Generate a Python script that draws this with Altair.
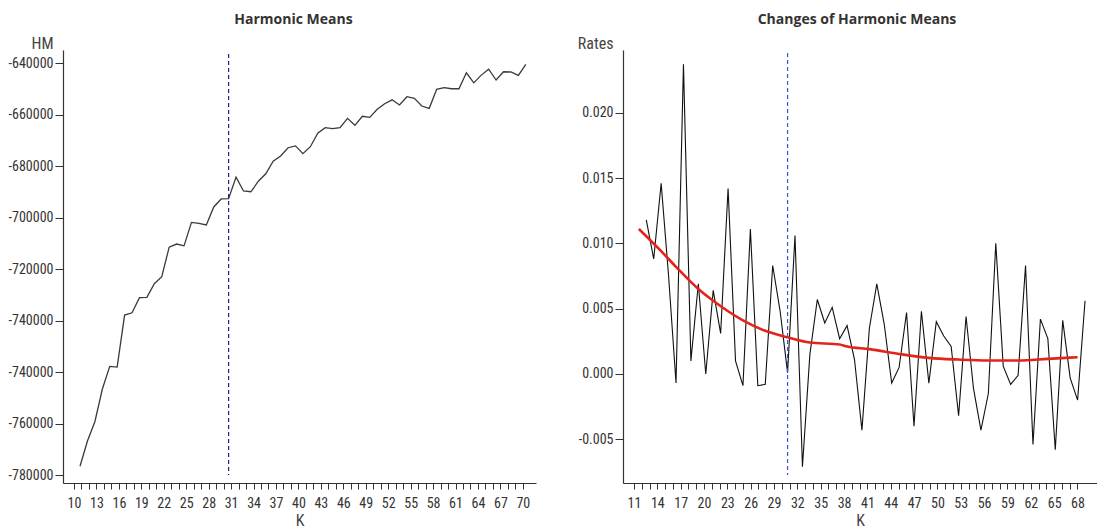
import json
import altair as alt
import pandas as pd

# ---- data -----------------------------------------------------------------
K_HM = list(range(10, 71))
HM = [-796600, -786800, -779300, -766700, -757800, -758100, -737900, -737000, -731100, -731000,
      -725700, -723000, -711500, -710300, -711000, -701900, -702300, -702900, -695900, -692800,
      -692700, -684300, -689700, -690000, -685900, -683000, -678100, -676100, -672900, -672200,
      -675200, -672500, -667300, -665100, -665500, -665100, -661500, -664200, -660700, -661100,
      -658000, -655800, -654300, -656300, -653100, -653700, -656700, -657600, -650200, -649600,
      -650000, -650000, -643800, -647700, -644700, -642400, -646600, -643400, -643500, -644800,
      -640500]

K_RATE = list(range(11, 71))
RATE = [0.0118, 0.0088, 0.0146, 0.0075, -0.0007, 0.0237, 0.0010, 0.0069, 0.0000, 0.0064,
        0.0031, 0.0142, 0.0010, -0.0009, 0.0111, -0.0009, -0.0008, 0.0083, 0.0048, 0.0001,
        0.0106, -0.0071, 0.0015, 0.0057, 0.0039, 0.0051, 0.0027, 0.0037, 0.0011, -0.0043,
        0.0035, 0.0069, 0.0038, -0.0007, 0.0005, 0.0047, -0.0040, 0.0048, -0.0007, 0.0040,
        0.0029, 0.0021, -0.0032, 0.0044, -0.0011, -0.0043, -0.0015, 0.0100, 0.0006, -0.0008,
        -0.0001, 0.0083, -0.0054, 0.0042, 0.0027, -0.0058, 0.0041, -0.0003, -0.0020, 0.0056]

# smoothed trend of the rates
K_SMOOTH = [10, 13, 15, 18, 20, 22, 24, 27, 30, 33, 37, 38, 41, 45, 49, 53, 57, 61, 65, 69]
SMOOTH = [0.0111, 0.0094, 0.0082, 0.0065, 0.0056, 0.0048, 0.0041, 0.0033, 0.0028, 0.0024,
          0.00225, 0.0021, 0.0019, 0.00153, 0.00123, 0.0011, 0.00103, 0.00103, 0.00115, 0.00128]

SELECTED_K = 30

HM_TICKS = [-640000, -660000, -680000, -700000, -720000, -740000, -760000, -780000, -800000]
HM_TICK_LABELS = ["-640000", "-660000", "-680000", "-700000", "-720000",
                  "-740000", "-740000", "-760000", "-780000"]
RATE_TICKS = [-0.005, 0.0, 0.005, 0.010, 0.015, 0.020]
RATE_TICK_LABELS = ["-0.005", "0.000", "0.005", "0.010", "0.015", "0.020"]

K_TICKS_LEFT = list(range(10, 71))
K_TICKS_RIGHT = list(range(11, 69))

# ---- style ----------------------------------------------------------------
FONT = "Liberation Sans Narrow, Roboto Condensed, Roboto, sans-serif"
TITLE_FONT = "Open Sans"
INK = "#333333"
W_L, W_R, H = 473, 474, 433

hm_df = pd.DataFrame({"K": K_HM, "HM": HM})
rate_df = pd.DataFrame({"K": K_RATE, "Rate": RATE})
smooth_df = pd.DataFrame({"K": K_SMOOTH, "Rate": SMOOTH})
sel_df = pd.DataFrame({"K": [SELECTED_K]})


def k_axis_layer(ticks, first, domain):
    """Invisible layer that carries the K axis with a tick at every integer."""
    df = pd.DataFrame({"k": ticks})
    return alt.Chart(df).mark_point(opacity=0).encode(
        x=alt.X("k:Q", title="K",
                scale=alt.Scale(domain=domain, nice=False, zero=False),
                axis=alt.Axis(values=ticks,
                              labelExpr=f"(datum.value - {first}) % 3 == 0 ? datum.label : ''",
                              labelOverlap=False, labelFlush=False,
                              tickSize=6, labelPadding=7, titlePadding=2))
    )


def y_axis(title, ticks, labels, step, top):
    expr = f"{json.dumps(labels)}[round(abs(datum.value - ({top})) / {step})]"
    return alt.Axis(values=ticks, labelExpr=expr, title=title, titleAngle=0,
                    titleAlign="right", titleBaseline="alphabetic",
                    titleX=-10, titleY=-2, tickSize=8, labelPadding=2,
                    labelOverlap=False, labelFlush=False)


# ---- left: harmonic means --------------------------------------------------
xs_left = alt.Scale(domain=[7.71, 71.37], nice=False, zero=False)
ys_left = alt.Scale(domain=[-803100, -634950], nice=False, zero=False)

hm_line = alt.Chart(hm_df).mark_line(color="#3a3a3a", strokeWidth=1.3).encode(
    x=alt.X("K:Q", scale=xs_left, axis=None),
    y=alt.Y("HM:Q", scale=ys_left,
            axis=y_axis("HM", HM_TICKS, HM_TICK_LABELS, 20000, -640000)),
)
hm_rule = alt.Chart(sel_df).mark_rule(color="#1c2680", strokeWidth=1.2,
                                      strokeDash=[4, 3]).encode(
    x=alt.X("K:Q", scale=xs_left, axis=None),
    y=alt.value(4), y2=alt.value(H - 8),
)
left = alt.layer(
    k_axis_layer(K_TICKS_LEFT, 10, [8.53, 71.76]), hm_line, hm_rule
).resolve_scale(x="independent").properties(
    width=W_L, height=H,
    title=alt.TitleParams("Harmonic Means", anchor="middle", frame="group",
                          font=TITLE_FONT, fontSize=14, fontWeight="bold",
                          color=INK, offset=8, dx=-6),
)

# ---- right: changes of harmonic means --------------------------------------
xs_right = alt.Scale(domain=[7.87, 71.61], nice=False, zero=False)
ys_right = alt.Scale(domain=[-0.00835, 0.0248], nice=False, zero=False)

rate_line = alt.Chart(rate_df).mark_line(color="#111111", strokeWidth=1.1).encode(
    x=alt.X("K:Q", scale=xs_right, axis=None),
    y=alt.Y("Rate:Q", scale=ys_right,
            axis=y_axis("Rates", RATE_TICKS, RATE_TICK_LABELS, 0.005, -0.005)),
)
smooth_line = alt.Chart(smooth_df).mark_line(color="#e3241b", strokeWidth=2.6,
                                             interpolate="monotone").encode(
    x=alt.X("K:Q", scale=xs_right, axis=None),
    y=alt.Y("Rate:Q", scale=ys_right),
)
rate_rule = alt.Chart(sel_df).mark_rule(color="#3d4ee0", strokeWidth=1.2,
                                        strokeDash=[4, 3]).encode(
    x=alt.X("K:Q", scale=xs_right, axis=None),
    y=alt.value(3), y2=alt.value(H - 8),
)
right = alt.layer(
    k_axis_layer(K_TICKS_RIGHT, 11, [9.59, 70.51]), rate_line, smooth_line, rate_rule
).resolve_scale(x="independent").properties(
    width=W_R, height=H,
    title=alt.TitleParams("Changes of Harmonic Means", anchor="middle", frame="group",
                          font=TITLE_FONT, fontSize=14, fontWeight="bold",
                          color=INK, offset=8, dx=-3),
)

chart = alt.hconcat(left, right, spacing=41).properties(
    padding={"left": 8, "top": 13, "right": 0, "bottom": 0},
).configure_view(stroke=None).configure_axis(
    grid=False,
    domainColor=INK, domainWidth=1.2,
    tickColor=INK, tickWidth=1,
    labelFont=FONT, labelFontSize=14, labelColor=INK,
    titleFont=FONT, titleFontSize=16, titleFontWeight="normal", titleColor="#444444",
)

chart.save("out.html", embed_options={"renderer": "svg", "actions": False})
